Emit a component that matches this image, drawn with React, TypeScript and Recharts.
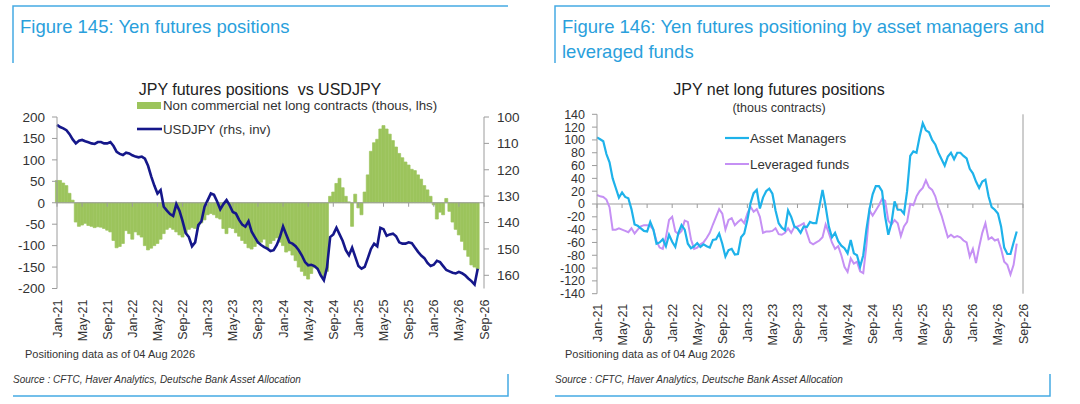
import React from 'react';
import {
  ComposedChart,
  LineChart,
  Bar,
  Line,
  XAxis,
  YAxis,
  ReferenceLine,
} from 'recharts';

// semi-monthly readings, Jan-21 .. early Aug-26
const netLong = [
  52, 52, 46, 40, 22, 6, -45, -55, -52, -48,
  -53, -55, -58, -56, -57, -60, -64, -68, -88, -105,
  -102, -95, -65, -72, -85, -68, -75, -80, -100, -110,
  -106, -100, -95, -85, -72, -62, -58, -62, -68, -75,
  -80, -70, -62, -58, -60, -55, -47, -40, -28, -25,
  -28, -35, -38, -60, -72, -58, -60, -70, -78, -88,
  -95, -105, -108, -102, -95, -92, -85, -108, -95, -88,
  -82, -92, -100, -115, -112, -122, -135, -150, -160, -170,
  -178, -165, -152, -155, -165, -175, -160, 15, 25, 45,
  57, 35, 15, 2, -55, 20, -12, -28, 25, 65,
  120, 140, 148, 172, 180, 172, 160, 145, 130, 115,
  105, 95, 88, 78, 75, 65, 55, 40, 30, 15,
  -5, -38, -22, -28, 10, -20, -45, -62, -75, -90,
  -110, -125, -145, -150, -155,
];

const usdjpy = [
  103, 103.8, 104.3, 105, 106.5, 108.5, 110, 109, 108.7, 109.2,
  109.6, 110, 110.2, 109.5, 109.5, 110, 110, 109.5, 111, 113.2,
  114, 114.4, 113.5, 113.8, 114.5, 115, 115.3, 115, 115.8, 118.5,
  122.5, 126, 129, 127.7, 134, 135.5, 136.8, 137.5, 133, 135.5,
  139.5, 144, 145.5, 149, 147.5, 141, 139.5, 134, 131.5, 129,
  129.5, 132, 135, 133, 131.5, 133.5, 136, 136.6, 139, 140.8,
  141.6, 139.5, 143.5, 145.5, 147.5, 148.5, 149.3, 149.9, 150.8, 150.5,
  148.5, 145.5, 141.5, 144.5, 147.5, 148, 149, 150.5, 152.5, 155,
  156.2, 156, 156.5, 157.5, 160, 161.9, 157, 145.5, 144.5, 142,
  144.5, 147, 150.5, 152.4, 149.5, 153, 156.5, 157.5, 156.8, 153.5,
  150, 148, 149, 142, 142.5, 145, 144.5, 144.2, 145.2, 147.5,
  148, 148, 147.5, 147.8, 149.5, 151.1, 152.5, 153.5, 155.3, 156.5,
  156, 154.5, 155, 156.5, 158, 158.5, 159, 159.3, 158.7, 159.2,
  160, 161.2, 162.2, 163.5, 157.5,
];

const assetManagers = [
  104, 101, 98, 78, 65, 40, 25, 10, 18, 11,
  9, -8, -32, -34, -38, -42, -43, -28, -40, -62,
  -60, -55, -66, -48, -59, -67, -45, -33, -40, -62,
  -69, -66, -61, -67, -63, -66, -68, -56, -55, -46,
  -62, -82, -72, -70, -79, -78, -52, -46, -25, 1,
  17, 22, -7, 10, 20, 24, 16, -10, -30, -37,
  -41, -10, -20, -35, -38, -45, -35, -36, -28, -30,
  -30, -4, 22, -4, -35, -52, -45, -58, -65, -69,
  -77, -56, -77, -80, -98, -80, -40, -8, 15, 28,
  28, 20, -20, -48, -30, 4, -9, -9, -15, 20,
  75, 82, 80, 105, 126, 115, 112, 100, 93, 80,
  70, 60, 74, 80, 70, 80, 80, 75, 71, 55,
  48, 35, 25, 35, 38, 12, -5, -9, -15, -35,
  -68, -78, -78, -60, -43,
];

const leveragedFunds = [
  14, 12, 11, 7, -5, -40, -40, -38, -40, -42,
  -44, -38, -46, -40, -35, -33, -33, -34, -40, -58,
  -68, -70, -52, -25, -20, -43, -47, -42, -26, -28,
  -55, -70, -68, -63, -60, -53, -45, -32, -20, -8,
  -15, -40, -25, -22, -33, -28, -24, -30, -15, -4,
  -12, -8, -20, -45, -43, -43, -42, -38, -47, -48,
  -45, -38, -45, -36, -35, -33, -30, -45, -60, -63,
  -60, -57, -52, -32, -45, -60, -70, -66, -80, -98,
  -106, -85, -93, -90, -105, -108, -65, -10, -18, -10,
  -2, 8, 5, -26, -32, -25, -30, -50, -35, -28,
  0, -2, 12, 20, 25, 37, 26, 22, 12, -5,
  -18, -35, -52, -48, -52, -50, -52, -57, -60, -82,
  -70, -92, -67, -45, -30, -55, -52, -57, -55, -70,
  -90, -95, -110, -95, -62,
];

const tickLabels = [
  'Jan-21', 'May-21', 'Sep-21', 'Jan-22', 'May-22', 'Sep-22',
  'Jan-23', 'May-23', 'Sep-23', 'Jan-24', 'May-24', 'Sep-24',
  'Jan-25', 'May-25', 'Sep-25', 'Jan-26', 'May-26', 'Sep-26',
];
const tickMonths = tickLabels.map((_, i) => i * 4);

const lhsTicks = [-200, -150, -100, -50, 0, 50, 100, 150, 200];
const rhsTicks = [100, 110, 120, 130, 140, 150, 160];
const posTicks = [-140, -120, -100, -80, -60, -40, -20, 0, 20, 40, 60, 80, 100, 120, 140];

const leftData = netLong.map((v, i) => ({ m: i / 2, net: v, usdjpy: usdjpy[i] }));
const rightData = assetManagers.map((v, i) => ({ m: i / 2, am: v, lev: leveragedFunds[i] }));

const GREEN = '#9cc45c';
const NAVY = '#15178a';
const CYAN = '#1eb2ea';
const LILAC = '#c590f4';
const TITLE = '#2a9fdc';
const FRAME = '#45abe4';
const AXIS = '#9c9c9c';
const TEXT = '#333';
const FONT = '"Liberation Sans", Arial, sans-serif';

// left chart plot box
const L_TOP = 117;
const L_H = 171.5;
// right chart plot box
const R_TOP = 114.3;
const R_H = 179.4;

function MonthTick(props: any) {
  const { x, payload, labelTop, zeroY } = props;
  const label = tickLabels[Math.round(payload.value / 4)];
  return (
    <g>
      <line x1={x} x2={x} y1={zeroY} y2={zeroY + 4} stroke={AXIS} />
      <text
        transform={`translate(${x},${labelTop}) rotate(-90)`}
        dy="0.36em"
        textAnchor="end"
        fontSize={12.5}
        fill={TEXT}
        fontFamily={FONT}
      >
        {label}
      </text>
    </g>
  );
}

function LeftChart() {
  return (
    <ComposedChart
      width={540}
      height={350}
      data={leftData}
      barCategoryGap={0}
      margin={{ top: L_TOP, right: 0, bottom: 350 - L_TOP - L_H - 55, left: 10 }}
    >
      <XAxis
        dataKey="m"
        type="number"
        domain={[0, 68]}
        ticks={tickMonths}
        interval={0}
        axisLine={false}
        tickLine={false}
        height={55}
        tick={(p: any) => (
          <MonthTick {...p} labelTop={L_TOP + L_H + 11} zeroY={L_TOP + L_H / 2} />
        )}
      />
      <YAxis
        yAxisId="l"
        domain={[-200, 200]}
        ticks={lhsTicks}
        interval={0}
        width={47}
        tickSize={5}
        tickMargin={7}
        axisLine={{ stroke: AXIS }}
        tickLine={{ stroke: AXIS }}
        tick={{ fontSize: 13.5, fill: TEXT, fontFamily: FONT }}
      />
      <YAxis
        yAxisId="r"
        orientation="right"
        reversed
        domain={[100, 165]}
        ticks={rhsTicks}
        interval={0}
        width={56}
        tickSize={5}
        tickMargin={8}
        axisLine={{ stroke: AXIS }}
        tickLine={{ stroke: AXIS }}
        tick={{ fontSize: 13.5, fill: TEXT, fontFamily: FONT }}
      />
      <ReferenceLine yAxisId="l" y={0} stroke={AXIS} strokeWidth={1.2} />
      <Bar
        yAxisId="l"
        dataKey="net"
        fill={GREEN}
        stroke={GREEN}
        strokeWidth={0.7}
        isAnimationActive={false}
      />
      <Line
        yAxisId="r"
        dataKey="usdjpy"
        stroke={NAVY}
        strokeWidth={2.6}
        dot={false}
        type="linear"
        isAnimationActive={false}
      />
    </ComposedChart>
  );
}

function RightChart() {
  return (
    <LineChart
      width={540}
      height={350}
      data={rightData}
      margin={{ top: R_TOP, right: 0, bottom: 350 - R_TOP - R_H - 52, left: 10 }}
    >
      <XAxis
        dataKey="m"
        type="number"
        domain={[0, 68]}
        ticks={tickMonths}
        interval={0}
        axisLine={false}
        tickLine={false}
        height={52}
        tick={(p: any) => (
          <MonthTick {...p} labelTop={R_TOP + R_H + 10} zeroY={R_TOP + R_H / 2} />
        )}
      />
      <YAxis
        yAxisId="l"
        domain={[-140, 140]}
        ticks={posTicks}
        interval={0}
        width={47}
        tickSize={5}
        tickMargin={7}
        axisLine={{ stroke: AXIS }}
        tickLine={{ stroke: AXIS }}
        tick={{ fontSize: 12.5, fill: TEXT, fontFamily: FONT }}
      />
      <YAxis
        yAxisId="r"
        orientation="right"
        domain={[-140, 140]}
        ticks={posTicks}
        interval={0}
        width={57}
        tickSize={5}
        tickMargin={5}
        axisLine={{ stroke: AXIS }}
        tickLine={{ stroke: AXIS }}
        tick={{ fontSize: 12.5, fill: TEXT, fontFamily: FONT }}
      />
      <ReferenceLine yAxisId="l" y={0} stroke={AXIS} strokeWidth={1.2} />
      <Line
        yAxisId="l"
        dataKey="lev"
        stroke={LILAC}
        strokeWidth={2}
        dot={false}
        type="linear"
        isAnimationActive={false}
      />
      <Line
        yAxisId="l"
        dataKey="am"
        stroke={CYAN}
        strokeWidth={2.2}
        dot={false}
        type="linear"
        isAnimationActive={false}
      />
    </LineChart>
  );
}

function Frames() {
  const src = 'Source : CFTC, Haver Analytics, Deutsche Bank Asset Allocation';
  const asOf = 'Positioning data as of 04 Aug 2026';
  return (
    <svg
      width={1080}
      height={404}
      style={{ position: 'absolute', left: 0, top: 0, pointerEvents: 'none' }}
      fontFamily={FONT}
    >
      {/* panel frames */}
      <g stroke={FRAME} strokeWidth={1.5} fill="none">
        <polyline points="13,63 13,6 508,6" />
        <polyline points="555,63 555,6 1050,6" />
        <polyline points="13,396 508,396 508,374" />
        <polyline points="555,396 1050,396 1050,374" />
      </g>

      <text x={20} y={33} fontSize={18.5} fill={TITLE}>
        Figure 145: Yen futures positions
      </text>
      <text x={562} y={33} fontSize={18.5} fill={TITLE}>
        Figure 146: Yen futures positioning by asset managers and
      </text>
      <text x={562} y={58} fontSize={18.5} fill={TITLE}>
        leveraged funds
      </text>

      {/* left chart title + legend */}
      <text x={260} y={95} fontSize={16} fill="#222" textAnchor="middle" style={{ whiteSpace: 'pre' }}>
        {'JPY futures positions  vs USDJPY'}
      </text>
      <rect x={137} y={102} width={24} height={7} fill={GREEN} />
      <text x={163} y={110} fontSize={13.3} fill={TEXT}>
        Non commercial net long contracts (thous, lhs)
      </text>
      <line x1={137} x2={162} y1={129} y2={129} stroke={NAVY} strokeWidth={2.6} />
      <text x={163} y={133.5} fontSize={13.3} fill={TEXT}>
        USDJPY (rhs, inv)
      </text>

      {/* right chart title + legend */}
      <text x={779} y={95} fontSize={16} fill="#222" textAnchor="middle">
        JPY net long futures positions
      </text>
      <text x={779} y={112} fontSize={12.5} fill={TEXT} textAnchor="middle">
        (thous contracts)
      </text>
      <line x1={725} x2={749} y1={138} y2={138} stroke={CYAN} strokeWidth={2.2} />
      <text x={750} y={142.5} fontSize={13.3} fill={TEXT}>
        Asset Managers
      </text>
      <line x1={725} x2={749} y1={164} y2={164} stroke={LILAC} strokeWidth={2} />
      <text x={750} y={168.5} fontSize={13.3} fill={TEXT}>
        Leveraged funds
      </text>

      <text x={25} y={358} fontSize={11} fill={TEXT}>{asOf}</text>
      <text x={565} y={358} fontSize={11} fill={TEXT}>{asOf}</text>
      <text x={13} y={383} fontSize={10} fontStyle="italic" fill={TEXT}>{src}</text>
      <text x={555} y={383} fontSize={10} fontStyle="italic" fill={TEXT}>{src}</text>
    </svg>
  );
}

export default function App() {
  return (
    <div
      style={{
        position: 'absolute',
        left: 0,
        top: 0,
        width: 1080,
        height: 404,
        background: '#fff',
        overflow: 'hidden',
        fontFamily: FONT,
      }}
    >
      <div style={{ position: 'absolute', left: 0, top: 0 }}>
        <LeftChart />
      </div>
      <div style={{ position: 'absolute', left: 540, top: 0 }}>
        <RightChart />
      </div>
      <Frames />
    </div>
  );
}
